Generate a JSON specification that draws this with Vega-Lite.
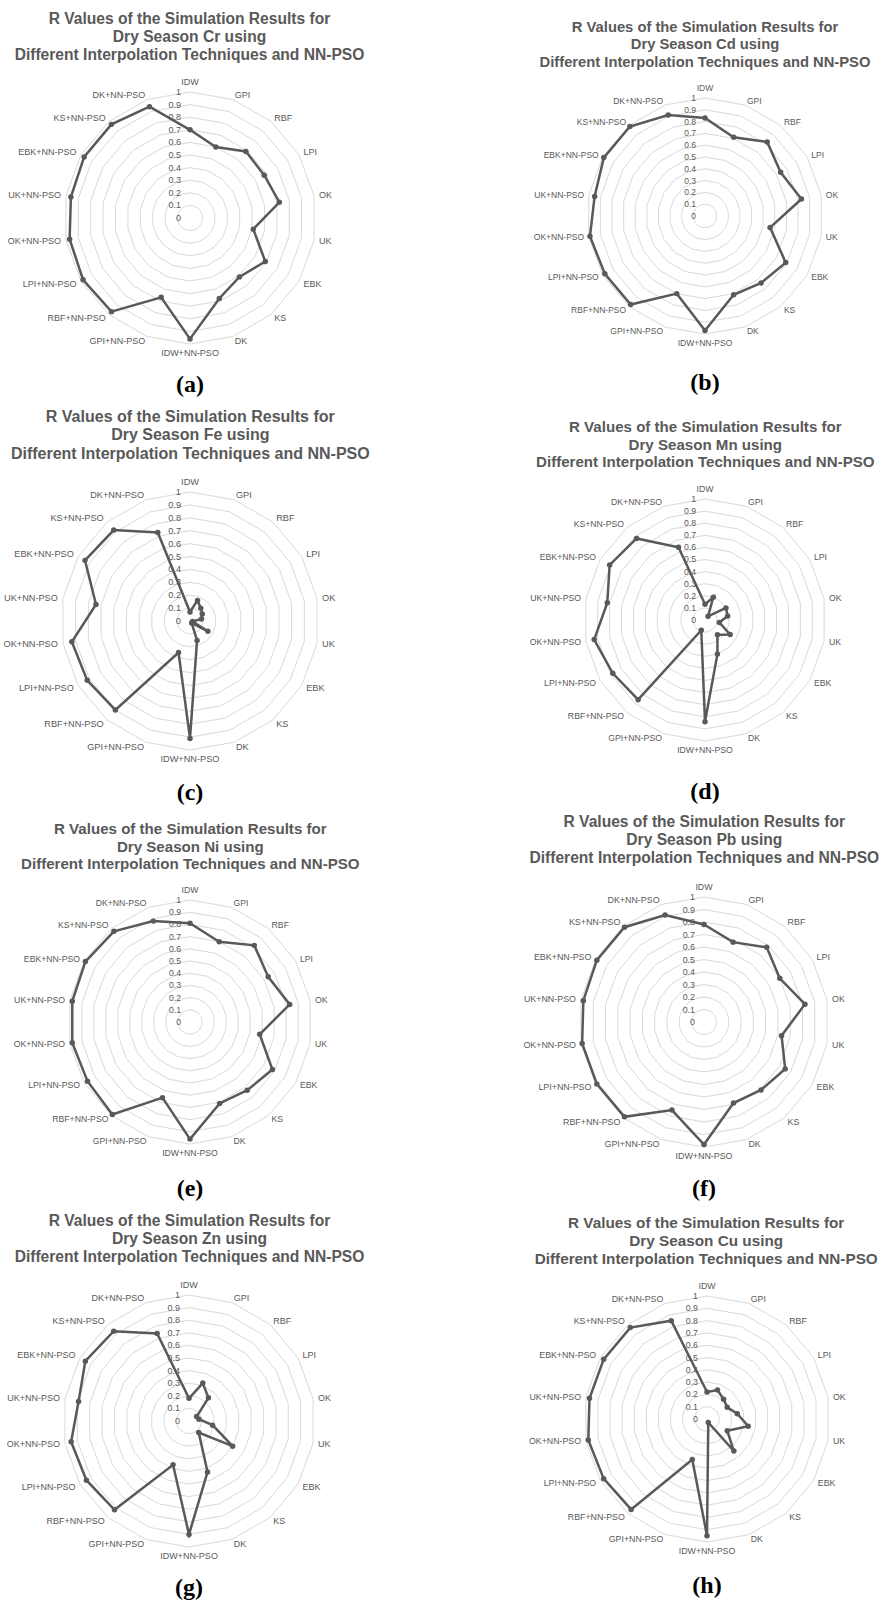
{
"$schema":"https://vega.github.io/schema/vega-lite/v6.json",
"autosize":{"type":"pad"},
"padding":{"left":0,"top":11,"right":0,"bottom":0},
"background":"white",
"config":{"view":{"stroke":null},"title":{"font":"Liberation Sans","fontWeight":"bold","color":"#595959","anchor":"middle","frame":"group"},"text":{"font":"Liberation Sans"}},
"datasets":{
"grid":[{"lv":0.1,"k":[0,1,2,3,4,5,6,7,8,9,10,11,12,13,14,15,16,17]},{"lv":0.2,"k":[0,1,2,3,4,5,6,7,8,9,10,11,12,13,14,15,16,17]},{"lv":0.3,"k":[0,1,2,3,4,5,6,7,8,9,10,11,12,13,14,15,16,17]},{"lv":0.4,"k":[0,1,2,3,4,5,6,7,8,9,10,11,12,13,14,15,16,17]},{"lv":0.5,"k":[0,1,2,3,4,5,6,7,8,9,10,11,12,13,14,15,16,17]},{"lv":0.6,"k":[0,1,2,3,4,5,6,7,8,9,10,11,12,13,14,15,16,17]},{"lv":0.7,"k":[0,1,2,3,4,5,6,7,8,9,10,11,12,13,14,15,16,17]},{"lv":0.8,"k":[0,1,2,3,4,5,6,7,8,9,10,11,12,13,14,15,16,17]},{"lv":0.9,"k":[0,1,2,3,4,5,6,7,8,9,10,11,12,13,14,15,16,17]},{"lv":1,"k":[0,1,2,3,4,5,6,7,8,9,10,11,12,13,14,15,16,17]}],
"ticks":[{"lv":0,"k":0},{"lv":0.1,"k":0},{"lv":0.2,"k":0},{"lv":0.3,"k":0},{"lv":0.4,"k":0},{"lv":0.5,"k":0},{"lv":0.6,"k":0},{"lv":0.7,"k":0},{"lv":0.8,"k":0},{"lv":0.9,"k":0},{"lv":1,"k":0}],
"r":[
{"p":"a","cat":"IDW","v":0.70},{"p":"a","cat":"GPI","v":0.60},{"p":"a","cat":"RBF","v":0.69},{"p":"a","cat":"LPI","v":0.68},{"p":"a","cat":"OK","v":0.72},{"p":"a","cat":"UK","v":0.51},{"p":"a","cat":"EBK","v":0.69},{"p":"a","cat":"KS","v":0.61},{"p":"a","cat":"DK","v":0.68},{"p":"a","cat":"IDW+NN-PSO","v":0.96},{"p":"a","cat":"GPI+NN-PSO","v":0.67},{"p":"a","cat":"RBF+NN-PSO","v":0.97},{"p":"a","cat":"LPI+NN-PSO","v":0.98},{"p":"a","cat":"OK+NN-PSO","v":0.97},{"p":"a","cat":"UK+NN-PSO","v":0.96},{"p":"a","cat":"EBK+NN-PSO","v":0.97},{"p":"a","cat":"KS+NN-PSO","v":0.97},{"p":"a","cat":"DK+NN-PSO","v":0.94},
{"p":"b","cat":"IDW","v":0.83},{"p":"b","cat":"GPI","v":0.71},{"p":"b","cat":"RBF","v":0.82},{"p":"b","cat":"LPI","v":0.74},{"p":"b","cat":"OK","v":0.83},{"p":"b","cat":"UK","v":0.56},{"p":"b","cat":"EBK","v":0.79},{"p":"b","cat":"KS","v":0.74},{"p":"b","cat":"DK","v":0.71},{"p":"b","cat":"IDW+NN-PSO","v":0.97},{"p":"b","cat":"GPI+NN-PSO","v":0.70},{"p":"b","cat":"RBF+NN-PSO","v":0.98},{"p":"b","cat":"LPI+NN-PSO","v":0.98},{"p":"b","cat":"OK+NN-PSO","v":0.99},{"p":"b","cat":"UK+NN-PSO","v":0.95},{"p":"b","cat":"EBK+NN-PSO","v":0.99},{"p":"b","cat":"KS+NN-PSO","v":0.99},{"p":"b","cat":"DK+NN-PSO","v":0.91},
{"p":"c","cat":"IDW","v":0.07},{"p":"c","cat":"GPI","v":0.17},{"p":"c","cat":"RBF","v":0.13},{"p":"c","cat":"LPI","v":0.11},{"p":"c","cat":"OK","v":0.09},{"p":"c","cat":"UK","v":0.02},{"p":"c","cat":"EBK","v":0.16},{"p":"c","cat":"KS","v":0.02},{"p":"c","cat":"DK","v":0.16},{"p":"c","cat":"IDW+NN-PSO","v":0.91},{"p":"c","cat":"GPI+NN-PSO","v":0.26},{"p":"c","cat":"RBF+NN-PSO","v":0.90},{"p":"c","cat":"LPI+NN-PSO","v":0.92},{"p":"c","cat":"OK+NN-PSO","v":0.93},{"p":"c","cat":"UK+NN-PSO","v":0.74},{"p":"c","cat":"EBK+NN-PSO","v":0.94},{"p":"c","cat":"KS+NN-PSO","v":0.92},{"p":"c","cat":"DK+NN-PSO","v":0.73},
{"p":"d","cat":"IDW","v":0.13},{"p":"d","cat":"GPI","v":0.20},{"p":"d","cat":"RBF","v":0.04},{"p":"d","cat":"LPI","v":0.20},{"p":"d","cat":"OK","v":0.19},{"p":"d","cat":"UK","v":0.12},{"p":"d","cat":"EBK","v":0.24},{"p":"d","cat":"KS","v":0.16},{"p":"d","cat":"DK","v":0.30},{"p":"d","cat":"IDW+NN-PSO","v":0.84},{"p":"d","cat":"GPI+NN-PSO","v":0.09},{"p":"d","cat":"RBF+NN-PSO","v":0.86},{"p":"d","cat":"LPI+NN-PSO","v":0.88},{"p":"d","cat":"OK+NN-PSO","v":0.93},{"p":"d","cat":"UK+NN-PSO","v":0.82},{"p":"d","cat":"EBK+NN-PSO","v":0.91},{"p":"d","cat":"KS+NN-PSO","v":0.88},{"p":"d","cat":"DK+NN-PSO","v":0.64},
{"p":"e","cat":"IDW","v":0.81},{"p":"e","cat":"GPI","v":0.70},{"p":"e","cat":"RBF","v":0.82},{"p":"e","cat":"LPI","v":0.74},{"p":"e","cat":"OK","v":0.83},{"p":"e","cat":"UK","v":0.58},{"p":"e","cat":"EBK","v":0.78},{"p":"e","cat":"KS","v":0.73},{"p":"e","cat":"DK","v":0.71},{"p":"e","cat":"IDW+NN-PSO","v":0.96},{"p":"e","cat":"GPI+NN-PSO","v":0.66},{"p":"e","cat":"RBF+NN-PSO","v":0.99},{"p":"e","cat":"LPI+NN-PSO","v":0.97},{"p":"e","cat":"OK+NN-PSO","v":0.98},{"p":"e","cat":"UK+NN-PSO","v":0.98},{"p":"e","cat":"EBK+NN-PSO","v":0.99},{"p":"e","cat":"KS+NN-PSO","v":0.97},{"p":"e","cat":"DK+NN-PSO","v":0.88},
{"p":"f","cat":"IDW","v":0.78},{"p":"f","cat":"GPI","v":0.68},{"p":"f","cat":"RBF","v":0.78},{"p":"f","cat":"LPI","v":0.70},{"p":"f","cat":"OK","v":0.82},{"p":"f","cat":"UK","v":0.63},{"p":"f","cat":"EBK","v":0.75},{"p":"f","cat":"KS","v":0.71},{"p":"f","cat":"DK","v":0.69},{"p":"f","cat":"IDW+NN-PSO","v":0.98},{"p":"f","cat":"GPI+NN-PSO","v":0.75},{"p":"f","cat":"RBF+NN-PSO","v":0.99},{"p":"f","cat":"LPI+NN-PSO","v":0.99},{"p":"f","cat":"OK+NN-PSO","v":0.99},{"p":"f","cat":"UK+NN-PSO","v":0.98},{"p":"f","cat":"EBK+NN-PSO","v":0.99},{"p":"f","cat":"KS+NN-PSO","v":0.99},{"p":"f","cat":"DK+NN-PSO","v":0.91},
{"p":"g","cat":"IDW","v":0.18},{"p":"g","cat":"GPI","v":0.32},{"p":"g","cat":"RBF","v":0.24},{"p":"g","cat":"LPI","v":0.07},{"p":"g","cat":"OK","v":0.08},{"p":"g","cat":"UK","v":0.19},{"p":"g","cat":"EBK","v":0.40},{"p":"g","cat":"KS","v":0.12},{"p":"g","cat":"DK","v":0.43},{"p":"g","cat":"IDW+NN-PSO","v":0.90},{"p":"g","cat":"GPI+NN-PSO","v":0.37},{"p":"g","cat":"RBF+NN-PSO","v":0.92},{"p":"g","cat":"LPI+NN-PSO","v":0.94},{"p":"g","cat":"OK+NN-PSO","v":0.95},{"p":"g","cat":"UK+NN-PSO","v":0.89},{"p":"g","cat":"EBK+NN-PSO","v":0.95},{"p":"g","cat":"KS+NN-PSO","v":0.93},{"p":"g","cat":"DK+NN-PSO","v":0.74},
{"p":"h","cat":"IDW","v":0.22},{"p":"h","cat":"GPI","v":0.25},{"p":"h","cat":"RBF","v":0.21},{"p":"h","cat":"LPI","v":0.19},{"p":"h","cat":"OK","v":0.25},{"p":"h","cat":"UK","v":0.34},{"p":"h","cat":"EBK","v":0.19},{"p":"h","cat":"KS","v":0.34},{"p":"h","cat":"DK","v":0.03},{"p":"h","cat":"IDW+NN-PSO","v":0.95},{"p":"h","cat":"GPI+NN-PSO","v":0.35},{"p":"h","cat":"RBF+NN-PSO","v":0.96},{"p":"h","cat":"LPI+NN-PSO","v":0.97},{"p":"h","cat":"OK+NN-PSO","v":0.98},{"p":"h","cat":"UK+NN-PSO","v":0.97},{"p":"h","cat":"EBK+NN-PSO","v":0.97},{"p":"h","cat":"KS+NN-PSO","v":0.97},{"p":"h","cat":"DK+NN-PSO","v":0.85}
]},
"data":{"name":"r"},
"transform":[
{"calculate":"indexof(['IDW','GPI','RBF','LPI','OK','UK','EBK','KS','DK','IDW+NN-PSO','GPI+NN-PSO','RBF+NN-PSO','LPI+NN-PSO','OK+NN-PSO','UK+NN-PSO','EBK+NN-PSO','KS+NN-PSO','DK+NN-PSO'], datum.cat)","as":"k"},
{"calculate":"datum.v*sin(datum.k*PI/9)","as":"px"},
{"calculate":"datum.v*cos(datum.k*PI/9)","as":"py"},
{"calculate":"1.04*sin(datum.k*PI/9)","as":"lx"},
{"calculate":"1.04*cos(datum.k*PI/9)","as":"ly"}
],
"columns":2,
"spacing":{"row":66,"column":0},
"bounds":"flush",
"concat":[
{"width":441,"height":334,
"title":{"text":["R Values of the Simulation Results for","Dry Season Cr using","Different Interpolation Techniques and NN-PSO"],"fontSize":15.6,"lineHeight":18.2,"dx":-31,"offset":3.2},
"encoding":{"x":{"field":"px","type":"quantitative","axis":null,"scale":{"domain":[-1.50794,1.99206],"nice":false,"zero":false}},"y":{"field":"py","type":"quantitative","axis":null,"scale":{"domain":[-1.45238,1.19841],"nice":false,"zero":false}}},
"layer":[
{"data":{"name":"grid"},"transform":[{"flatten":["k"]},{"calculate":"datum.lv*sin(datum.k*PI/9)","as":"px"},{"calculate":"datum.lv*cos(datum.k*PI/9)","as":"py"}],"mark":{"type":"line","interpolate":"linear-closed","color":"#d9d9d9","strokeWidth":1},"encoding":{"detail":{"field":"lv"},"order":{"field":"k"}}},
{"data":{"name":"ticks"},"transform":[{"calculate":"datum.lv*sin(datum.k*PI/9)","as":"px"},{"calculate":"datum.lv*cos(datum.k*PI/9)","as":"py"}],"mark":{"type":"text","align":"right","baseline":"middle","dx":-9,"fontSize":9,"color":"#595959"},"encoding":{"text":{"field":"lv","type":"quantitative"}}},
{"transform":[{"filter":"datum.p=='a'"}],"mark":{"type":"line","interpolate":"linear-closed","color":"#595959","strokeWidth":2.5,"point":{"filled":true,"size":30,"color":"#595959"}},"encoding":{"order":{"field":"k"}}},
{"transform":[{"filter":"datum.p=='a'"}],"mark":{"type":"text","fontSize":9,"color":"#595959","align":{"expr":"datum.k==0||datum.k==9 ? 'center' : (datum.k<9 ? 'left' : 'right')"},"baseline":{"expr":"datum.k==0 ? 'bottom' : (datum.k==9 ? 'top' : 'middle')"}},"encoding":{"x":{"field":"lx","type":"quantitative"},"y":{"field":"ly","type":"quantitative"},"text":{"field":"cat"}}},
{"data":{"values":[{"lab":"(a)"}]},"transform":[{"calculate":"0","as":"px"},{"calculate":"-1.3254","as":"py"}],"mark":{"type":"text","font":"Liberation Serif","fontSize":24,"fontWeight":"bold","color":"#000000"},"encoding":{"text":{"field":"lab"}}}
]},
{"width":442,"height":334,
"title":{"text":["R Values of the Simulation Results for","Dry Season Cd using","Different Interpolation Techniques and NN-PSO"],"fontSize":14.75,"lineHeight":17.2,"dx":43,"offset":-2.4},
"encoding":{"x":{"field":"px","type":"quantitative","axis":null,"scale":{"domain":[-2.23729,1.50847],"nice":false,"zero":false}},"y":{"field":"py","type":"quantitative","axis":null,"scale":{"domain":[-1.5678,1.26271],"nice":false,"zero":false}}},
"layer":[
{"data":{"name":"grid"},"transform":[{"flatten":["k"]},{"calculate":"datum.lv*sin(datum.k*PI/9)","as":"px"},{"calculate":"datum.lv*cos(datum.k*PI/9)","as":"py"}],"mark":{"type":"line","interpolate":"linear-closed","color":"#d9d9d9","strokeWidth":1},"encoding":{"detail":{"field":"lv"},"order":{"field":"k"}}},
{"data":{"name":"ticks"},"transform":[{"calculate":"datum.lv*sin(datum.k*PI/9)","as":"px"},{"calculate":"datum.lv*cos(datum.k*PI/9)","as":"py"}],"mark":{"type":"text","align":"right","baseline":"middle","dx":-9,"fontSize":8.5,"color":"#595959"},"encoding":{"text":{"field":"lv","type":"quantitative"}}},
{"transform":[{"filter":"datum.p=='b'"}],"mark":{"type":"line","interpolate":"linear-closed","color":"#595959","strokeWidth":2.5,"point":{"filled":true,"size":30,"color":"#595959"}},"encoding":{"order":{"field":"k"}}},
{"transform":[{"filter":"datum.p=='b'"}],"mark":{"type":"text","fontSize":8.5,"color":"#595959","align":{"expr":"datum.k==0||datum.k==9 ? 'center' : (datum.k<9 ? 'left' : 'right')"},"baseline":{"expr":"datum.k==0 ? 'bottom' : (datum.k==9 ? 'top' : 'middle')"}},"encoding":{"x":{"field":"lx","type":"quantitative"},"y":{"field":"ly","type":"quantitative"},"text":{"field":"cat"}}},
{"data":{"values":[{"lab":"(b)"}]},"transform":[{"calculate":"0","as":"px"},{"calculate":"-1.4153","as":"py"}],"mark":{"type":"text","font":"Liberation Serif","fontSize":24,"fontWeight":"bold","color":"#000000"},"encoding":{"text":{"field":"lab"}}}
]},
{"width":441,"height":334,
"title":{"text":["R Values of the Simulation Results for","Dry Season Fe using","Different Interpolation Techniques and NN-PSO"],"fontSize":16,"lineHeight":18.6,"dx":-30.2,"offset":5.2},
"encoding":{"x":{"field":"px","type":"quantitative","axis":null,"scale":{"domain":[-1.47287,1.94574],"nice":false,"zero":false}},"y":{"field":"py","type":"quantitative","axis":null,"scale":{"domain":[-1.39535,1.1938],"nice":false,"zero":false}}},
"layer":[
{"data":{"name":"grid"},"transform":[{"flatten":["k"]},{"calculate":"datum.lv*sin(datum.k*PI/9)","as":"px"},{"calculate":"datum.lv*cos(datum.k*PI/9)","as":"py"}],"mark":{"type":"line","interpolate":"linear-closed","color":"#d9d9d9","strokeWidth":1},"encoding":{"detail":{"field":"lv"},"order":{"field":"k"}}},
{"data":{"name":"ticks"},"transform":[{"calculate":"datum.lv*sin(datum.k*PI/9)","as":"px"},{"calculate":"datum.lv*cos(datum.k*PI/9)","as":"py"}],"mark":{"type":"text","align":"right","baseline":"middle","dx":-9,"fontSize":9.2,"color":"#595959"},"encoding":{"text":{"field":"lv","type":"quantitative"}}},
{"transform":[{"filter":"datum.p=='c'"}],"mark":{"type":"line","interpolate":"linear-closed","color":"#595959","strokeWidth":2.5,"point":{"filled":true,"size":30,"color":"#595959"}},"encoding":{"order":{"field":"k"}}},
{"transform":[{"filter":"datum.p=='c'"}],"mark":{"type":"text","fontSize":9.2,"color":"#595959","align":{"expr":"datum.k==0||datum.k==9 ? 'center' : (datum.k<9 ? 'left' : 'right')"},"baseline":{"expr":"datum.k==0 ? 'bottom' : (datum.k==9 ? 'top' : 'middle')"}},"encoding":{"x":{"field":"lx","type":"quantitative"},"y":{"field":"ly","type":"quantitative"},"text":{"field":"cat"}}},
{"data":{"values":[{"lab":"(c)"}]},"transform":[{"calculate":"0","as":"px"},{"calculate":"-1.3333","as":"py"}],"mark":{"type":"text","font":"Liberation Serif","fontSize":24,"fontWeight":"bold","color":"#000000"},"encoding":{"text":{"field":"lab"}}}
]},
{"width":442,"height":334,
"title":{"text":["R Values of the Simulation Results for","Dry Season Mn using","Different Interpolation Techniques and NN-PSO"],"fontSize":15.1,"lineHeight":17.6,"dx":43.3,"offset":-3.6},
"encoding":{"x":{"field":"px","type":"quantitative","axis":null,"scale":{"domain":[-2.18182,1.47107],"nice":false,"zero":false}},"y":{"field":"py","type":"quantitative","axis":null,"scale":{"domain":[-1.49587,1.26446],"nice":false,"zero":false}}},
"layer":[
{"data":{"name":"grid"},"transform":[{"flatten":["k"]},{"calculate":"datum.lv*sin(datum.k*PI/9)","as":"px"},{"calculate":"datum.lv*cos(datum.k*PI/9)","as":"py"}],"mark":{"type":"line","interpolate":"linear-closed","color":"#d9d9d9","strokeWidth":1},"encoding":{"detail":{"field":"lv"},"order":{"field":"k"}}},
{"data":{"name":"ticks"},"transform":[{"calculate":"datum.lv*sin(datum.k*PI/9)","as":"px"},{"calculate":"datum.lv*cos(datum.k*PI/9)","as":"py"}],"mark":{"type":"text","align":"right","baseline":"middle","dx":-9,"fontSize":8.7,"color":"#595959"},"encoding":{"text":{"field":"lv","type":"quantitative"}}},
{"transform":[{"filter":"datum.p=='d'"}],"mark":{"type":"line","interpolate":"linear-closed","color":"#595959","strokeWidth":2.5,"point":{"filled":true,"size":30,"color":"#595959"}},"encoding":{"order":{"field":"k"}}},
{"transform":[{"filter":"datum.p=='d'"}],"mark":{"type":"text","fontSize":8.7,"color":"#595959","align":{"expr":"datum.k==0||datum.k==9 ? 'center' : (datum.k<9 ? 'left' : 'right')"},"baseline":{"expr":"datum.k==0 ? 'bottom' : (datum.k==9 ? 'top' : 'middle')"}},"encoding":{"x":{"field":"lx","type":"quantitative"},"y":{"field":"ly","type":"quantitative"},"text":{"field":"cat"}}},
{"data":{"values":[{"lab":"(d)"}]},"transform":[{"calculate":"0","as":"px"},{"calculate":"-1.4215","as":"py"}],"mark":{"type":"text","font":"Liberation Serif","fontSize":24,"fontWeight":"bold","color":"#000000"},"encoding":{"text":{"field":"lab"}}}
]},
{"width":441,"height":334,
"title":{"text":["R Values of the Simulation Results for","Dry Season Ni using","Different Interpolation Techniques and NN-PSO"],"fontSize":15.1,"lineHeight":17.6,"dx":-30.2,"offset":-5.3},
"encoding":{"x":{"field":"px","type":"quantitative","axis":null,"scale":{"domain":[-1.55738,2.05738],"nice":false,"zero":false}},"y":{"field":"py","type":"quantitative","axis":null,"scale":{"domain":[-1.46721,1.27049],"nice":false,"zero":false}}},
"layer":[
{"data":{"name":"grid"},"transform":[{"flatten":["k"]},{"calculate":"datum.lv*sin(datum.k*PI/9)","as":"px"},{"calculate":"datum.lv*cos(datum.k*PI/9)","as":"py"}],"mark":{"type":"line","interpolate":"linear-closed","color":"#d9d9d9","strokeWidth":1},"encoding":{"detail":{"field":"lv"},"order":{"field":"k"}}},
{"data":{"name":"ticks"},"transform":[{"calculate":"datum.lv*sin(datum.k*PI/9)","as":"px"},{"calculate":"datum.lv*cos(datum.k*PI/9)","as":"py"}],"mark":{"type":"text","align":"right","baseline":"middle","dx":-9,"fontSize":8.7,"color":"#595959"},"encoding":{"text":{"field":"lv","type":"quantitative"}}},
{"transform":[{"filter":"datum.p=='e'"}],"mark":{"type":"line","interpolate":"linear-closed","color":"#595959","strokeWidth":2.5,"point":{"filled":true,"size":30,"color":"#595959"}},"encoding":{"order":{"field":"k"}}},
{"transform":[{"filter":"datum.p=='e'"}],"mark":{"type":"text","fontSize":8.7,"color":"#595959","align":{"expr":"datum.k==0||datum.k==9 ? 'center' : (datum.k<9 ? 'left' : 'right')"},"baseline":{"expr":"datum.k==0 ? 'bottom' : (datum.k==9 ? 'top' : 'middle')"}},"encoding":{"x":{"field":"lx","type":"quantitative"},"y":{"field":"ly","type":"quantitative"},"text":{"field":"cat"}}},
{"data":{"values":[{"lab":"(e)"}]},"transform":[{"calculate":"0","as":"px"},{"calculate":"-1.3689","as":"py"}],"mark":{"type":"text","font":"Liberation Serif","fontSize":24,"fontWeight":"bold","color":"#000000"},"encoding":{"text":{"field":"lab"}}}
]},
{"width":442,"height":334,
"title":{"text":["R Values of the Simulation Results for","Dry Season Pb using","Different Interpolation Techniques and NN-PSO"],"fontSize":15.6,"lineHeight":18.2,"dx":42.3,"offset":0.4},
"encoding":{"x":{"field":"px","type":"quantitative","axis":null,"scale":{"domain":[-2.104,1.432],"nice":false,"zero":false}},"y":{"field":"py","type":"quantitative","axis":null,"scale":{"domain":[-1.432,1.24],"nice":false,"zero":false}}},
"layer":[
{"data":{"name":"grid"},"transform":[{"flatten":["k"]},{"calculate":"datum.lv*sin(datum.k*PI/9)","as":"px"},{"calculate":"datum.lv*cos(datum.k*PI/9)","as":"py"}],"mark":{"type":"line","interpolate":"linear-closed","color":"#d9d9d9","strokeWidth":1},"encoding":{"detail":{"field":"lv"},"order":{"field":"k"}}},
{"data":{"name":"ticks"},"transform":[{"calculate":"datum.lv*sin(datum.k*PI/9)","as":"px"},{"calculate":"datum.lv*cos(datum.k*PI/9)","as":"py"}],"mark":{"type":"text","align":"right","baseline":"middle","dx":-9,"fontSize":8.9,"color":"#595959"},"encoding":{"text":{"field":"lv","type":"quantitative"}}},
{"transform":[{"filter":"datum.p=='f'"}],"mark":{"type":"line","interpolate":"linear-closed","color":"#595959","strokeWidth":2.5,"point":{"filled":true,"size":30,"color":"#595959"}},"encoding":{"order":{"field":"k"}}},
{"transform":[{"filter":"datum.p=='f'"}],"mark":{"type":"text","fontSize":8.9,"color":"#595959","align":{"expr":"datum.k==0||datum.k==9 ? 'center' : (datum.k<9 ? 'left' : 'right')"},"baseline":{"expr":"datum.k==0 ? 'bottom' : (datum.k==9 ? 'top' : 'middle')"}},"encoding":{"x":{"field":"lx","type":"quantitative"},"y":{"field":"ly","type":"quantitative"},"text":{"field":"cat"}}},
{"data":{"values":[{"lab":"(f)"}]},"transform":[{"calculate":"0","as":"px"},{"calculate":"-1.336","as":"py"}],"mark":{"type":"text","font":"Liberation Serif","fontSize":24,"fontWeight":"bold","color":"#000000"},"encoding":{"text":{"field":"lab"}}}
]},
{"width":441,"height":334,
"title":{"text":["R Values of the Simulation Results for","Dry Season Zn using","Different Interpolation Techniques and NN-PSO"],"fontSize":15.6,"lineHeight":18.2,"dx":-31,"offset":1.4},
"encoding":{"x":{"field":"px","type":"quantitative","axis":null,"scale":{"domain":[-1.5,2.0],"nice":false,"zero":false}},"y":{"field":"py","type":"quantitative","axis":null,"scale":{"domain":[-1.42857,1.22222],"nice":false,"zero":false}}},
"layer":[
{"data":{"name":"grid"},"transform":[{"flatten":["k"]},{"calculate":"datum.lv*sin(datum.k*PI/9)","as":"px"},{"calculate":"datum.lv*cos(datum.k*PI/9)","as":"py"}],"mark":{"type":"line","interpolate":"linear-closed","color":"#d9d9d9","strokeWidth":1},"encoding":{"detail":{"field":"lv"},"order":{"field":"k"}}},
{"data":{"name":"ticks"},"transform":[{"calculate":"datum.lv*sin(datum.k*PI/9)","as":"px"},{"calculate":"datum.lv*cos(datum.k*PI/9)","as":"py"}],"mark":{"type":"text","align":"right","baseline":"middle","dx":-9,"fontSize":9,"color":"#595959"},"encoding":{"text":{"field":"lv","type":"quantitative"}}},
{"transform":[{"filter":"datum.p=='g'"}],"mark":{"type":"line","interpolate":"linear-closed","color":"#595959","strokeWidth":2.5,"point":{"filled":true,"size":30,"color":"#595959"}},"encoding":{"order":{"field":"k"}}},
{"transform":[{"filter":"datum.p=='g'"}],"mark":{"type":"text","fontSize":9,"color":"#595959","align":{"expr":"datum.k==0||datum.k==9 ? 'center' : (datum.k<9 ? 'left' : 'right')"},"baseline":{"expr":"datum.k==0 ? 'bottom' : (datum.k==9 ? 'top' : 'middle')"}},"encoding":{"x":{"field":"lx","type":"quantitative"},"y":{"field":"ly","type":"quantitative"},"text":{"field":"cat"}}},
{"data":{"values":[{"lab":"(g)"}]},"transform":[{"calculate":"0","as":"px"},{"calculate":"-1.3254","as":"py"}],"mark":{"type":"text","font":"Liberation Serif","fontSize":24,"fontWeight":"bold","color":"#000000"},"encoding":{"text":{"field":"lab"}}}
]},
{"width":442,"height":334,
"title":{"text":["R Values of the Simulation Results for","Dry Season Cu using","Different Interpolation Techniques and NN-PSO"],"fontSize":15.3,"lineHeight":17.8,"dx":44.2,"offset":0},
"encoding":{"x":{"field":"px","type":"quantitative","axis":null,"scale":{"domain":[-2.1626,1.43089],"nice":false,"zero":false}},"y":{"field":"py","type":"quantitative","axis":null,"scale":{"domain":[-1.47967,1.23577],"nice":false,"zero":false}}},
"layer":[
{"data":{"name":"grid"},"transform":[{"flatten":["k"]},{"calculate":"datum.lv*sin(datum.k*PI/9)","as":"px"},{"calculate":"datum.lv*cos(datum.k*PI/9)","as":"py"}],"mark":{"type":"line","interpolate":"linear-closed","color":"#d9d9d9","strokeWidth":1},"encoding":{"detail":{"field":"lv"},"order":{"field":"k"}}},
{"data":{"name":"ticks"},"transform":[{"calculate":"datum.lv*sin(datum.k*PI/9)","as":"px"},{"calculate":"datum.lv*cos(datum.k*PI/9)","as":"py"}],"mark":{"type":"text","align":"right","baseline":"middle","dx":-9,"fontSize":8.8,"color":"#595959"},"encoding":{"text":{"field":"lv","type":"quantitative"}}},
{"transform":[{"filter":"datum.p=='h'"}],"mark":{"type":"line","interpolate":"linear-closed","color":"#595959","strokeWidth":2.5,"point":{"filled":true,"size":30,"color":"#595959"}},"encoding":{"order":{"field":"k"}}},
{"transform":[{"filter":"datum.p=='h'"}],"mark":{"type":"text","fontSize":8.8,"color":"#595959","align":{"expr":"datum.k==0||datum.k==9 ? 'center' : (datum.k<9 ? 'left' : 'right')"},"baseline":{"expr":"datum.k==0 ? 'bottom' : (datum.k==9 ? 'top' : 'middle')"}},"encoding":{"x":{"field":"lx","type":"quantitative"},"y":{"field":"ly","type":"quantitative"},"text":{"field":"cat"}}},
{"data":{"values":[{"lab":"(h)"}]},"transform":[{"calculate":"0","as":"px"},{"calculate":"-1.3577","as":"py"}],"mark":{"type":"text","font":"Liberation Serif","fontSize":24,"fontWeight":"bold","color":"#000000"},"encoding":{"text":{"field":"lab"}}}
]}
]
}
